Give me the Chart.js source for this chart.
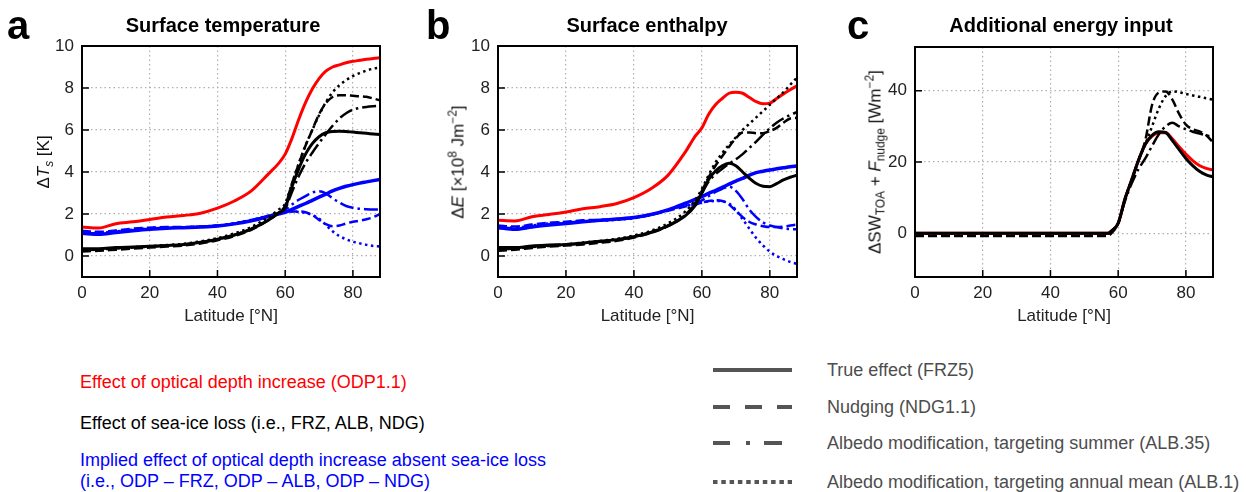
<!DOCTYPE html>
<html>
<head>
<meta charset="utf-8">
<script src="https://cdn.jsdelivr.net/npm/chart.js@4.4.1/dist/chart.umd.min.js"></script>
<style>
body { margin: 0; background: #fff; font-family: "Liberation Sans", Arial, sans-serif; }
#fig { position: relative; width: 1246px; height: 492px; overflow: hidden; }
canvas { position: absolute; }
.letter { position: absolute; font-weight: bold; font-size: 40px; line-height: 40px; }
.title { position: absolute; font-weight: bold; font-size: 20px; line-height: 20px; transform: translateX(-50%); white-space: nowrap; }
.ylab { position: absolute; font-size: 17px; line-height: 17px; white-space: nowrap; color: #111;
        transform: translate(-50%, -50%) rotate(-90deg); }
.ylab sub, .ylab sup { font-size: 70%; line-height: 0; }
.leg { position: absolute; font-size: 18px; line-height: 18px; white-space: nowrap; }
.key { position: absolute; left: 713px; width: 82px; height: 8px; }
</style>
</head>
<body>
<div id="fig">
  <canvas id="chartA" width="420" height="330" style="left:0px;top:0px"></canvas>
  <canvas id="chartB" width="420" height="330" style="left:420px;top:0px"></canvas>
  <canvas id="chartC" width="406" height="330" style="left:840px;top:0px"></canvas>

  <div class="letter" style="left:7px;top:5px">a</div>
  <div class="letter" style="left:426px;top:5px">b</div>
  <div class="letter" style="left:847px;top:5px">c</div>

  <div class="title" style="left:223px;top:15px">Surface temperature</div>
  <div class="title" style="left:647px;top:15px">Surface enthalpy</div>
  <div class="title" style="left:1061px;top:15px">Additional energy input</div>

  <div class="ylab" style="left:43px;top:162px">Δ<i>T</i><sub><i>s</i></sub> [K]</div>
  <div class="ylab" style="left:458px;top:162px">Δ<i>E</i> [×10<sup>8</sup> Jm<sup>−2</sup>]</div>
  <div class="ylab" style="left:875px;top:162px">ΔSW<sub>TOA</sub> + <i>F</i><sub>nudge</sub> [Wm<sup>−2</sup>]</div>

  <div class="leg" style="left:80px;top:373px;color:#ff0000">Effect of optical depth increase (ODP1.1)</div>
  <div class="leg" style="left:80px;top:414px;color:#000">Effect of sea-ice loss (i.e., FRZ, ALB, NDG)</div>
  <div class="leg" style="left:80px;top:451px;color:#0000ff">Implied effect of optical depth increase absent sea-ice loss</div>
  <div class="leg" style="left:80px;top:472px;color:#0000ff">(i.e., ODP – FRZ, ODP – ALB, ODP – NDG)</div>

  <svg class="key" style="top:366px"><line x1="0" y1="4" x2="79" y2="4" stroke="#555" stroke-width="4"/></svg>
  <svg class="key" style="top:403px"><line x1="0" y1="4" x2="79" y2="4" stroke="#555" stroke-width="4" stroke-dasharray="17 15"/></svg>
  <svg class="key" style="top:439px"><line x1="0" y1="4" x2="69" y2="4" stroke="#555" stroke-width="4" stroke-dasharray="17 16 4 14 18 100"/></svg>
  <svg class="key" style="top:478px"><line x1="0" y1="4" x2="79" y2="4" stroke="#555" stroke-width="4" stroke-dasharray="4.5 3.8"/></svg>

  <div class="leg" style="left:827px;top:361px;color:#4d4d4d">True effect (FRZ5)</div>
  <div class="leg" style="left:827px;top:398px;color:#4d4d4d">Nudging (NDG1.1)</div>
  <div class="leg" style="left:827px;top:434px;color:#4d4d4d">Albedo modification, targeting summer (ALB.35)</div>
  <div class="leg" style="left:827px;top:473px;color:#4d4d4d">Albedo modification, targeting annual mean (ALB.1)</div>
</div>

<script>
// latitudes (deg N) for panels a and b
const lat = [0, 5, 10, 15, 20, 25, 30, 35, 40, 45, 50, 55, 58, 60, 62, 64, 66, 68, 70, 72, 74, 76, 78, 80, 82, 84, 86, 88];
// latitudes for panel c
const latC = [0, 10, 20, 30, 40, 50, 57, 58, 60, 62, 64, 66, 68, 70, 72, 74, 76, 78, 80, 82, 84, 86, 88];

const xTicks = [0, 20, 40, 60, 80];
const yTicksAB = [0, 2, 4, 6, 8, 10];
const yTicksC = [0, 20, 40];

/////////////////////////////////////////////////////////////////
// a: surface temperature change [K]
const tsOdp      = [1.38, 1.33, 1.54, 1.63, 1.74, 1.86, 1.93, 2.04, 2.28, 2.62, 3.1, 3.9, 4.4, 4.85, 5.6, 6.5, 7.3, 7.95, 8.45, 8.8, 9.0, 9.1, 9.2, 9.27, 9.32, 9.37, 9.41, 9.44];
const tsFrz      = [0.35, 0.35, 0.4, 0.43, 0.46, 0.5, 0.55, 0.65, 0.8, 1.0, 1.28, 1.7, 2.05, 2.3, 3.3, 4.15, 4.85, 5.35, 5.68, 5.87, 5.93, 5.94, 5.93, 5.9, 5.87, 5.84, 5.81, 5.78];
const tsNdg      = [0.22, 0.25, 0.3, 0.35, 0.4, 0.45, 0.5, 0.6, 0.75, 0.95, 1.25, 1.7, 2.05, 2.4, 3.45, 4.38, 5.25, 6.0, 6.75, 7.28, 7.57, 7.65, 7.65, 7.63, 7.61, 7.58, 7.5, 7.42];
const tsAlb35    = [0.28, 0.3, 0.36, 0.4, 0.44, 0.49, 0.54, 0.64, 0.8, 1.0, 1.3, 1.72, 2.05, 2.25, 3.05, 3.8, 4.42, 4.92, 5.37, 5.8, 6.2, 6.55, 6.8, 6.97, 7.05, 7.1, 7.13, 7.15];
const tsAlb1     = [0.3, 0.32, 0.38, 0.42, 0.47, 0.52, 0.58, 0.7, 0.85, 1.08, 1.38, 1.85, 2.2, 2.5, 3.45, 4.4, 5.27, 6.0, 6.7, 7.32, 7.8, 8.13, 8.38, 8.57, 8.71, 8.83, 8.92, 8.98];
const tsOdpFrz   = [1.08, 1.03, 1.12, 1.2, 1.27, 1.32, 1.35, 1.38, 1.43, 1.53, 1.68, 1.88, 2.0, 2.08, 2.22, 2.36, 2.5, 2.65, 2.8, 2.95, 3.1, 3.22, 3.32, 3.4, 3.47, 3.53, 3.59, 3.65];
const tsOdpNdg   = [1.2, 1.15, 1.22, 1.3, 1.35, 1.38, 1.38, 1.4, 1.45, 1.55, 1.7, 1.9, 2.02, 2.1, 2.12, 2.12, 2.08, 1.95, 1.72, 1.52, 1.42, 1.45, 1.55, 1.63, 1.68, 1.75, 1.85, 2.0];
const tsOdpAlb35 = [1.12, 1.07, 1.15, 1.23, 1.3, 1.34, 1.36, 1.39, 1.44, 1.54, 1.7, 1.9, 2.03, 2.2, 2.45, 2.68, 2.85, 3.02, 3.08, 2.98, 2.75, 2.55, 2.38, 2.3, 2.25, 2.23, 2.22, 2.22];
const tsOdpAlb1  = [1.15, 1.1, 1.17, 1.25, 1.32, 1.35, 1.37, 1.4, 1.45, 1.56, 1.72, 1.92, 2.05, 2.1, 2.12, 2.1, 2.05, 1.95, 1.78, 1.48, 1.18, 0.95, 0.8, 0.68, 0.6, 0.53, 0.48, 0.45];

/////////////////////////////////////////////////////////////////
// b: surface enthalpy change [1e8 J m-2]
const eOdp      = [1.7, 1.67, 1.87, 1.98, 2.1, 2.25, 2.35, 2.5, 2.78, 3.2, 3.84, 4.92, 5.7, 6.1, 6.75, 7.2, 7.5, 7.75, 7.8, 7.75, 7.55, 7.35, 7.25, 7.28, 7.5, 7.72, 7.92, 8.1];
const eFrz      = [0.4, 0.4, 0.48, 0.52, 0.55, 0.62, 0.7, 0.78, 0.92, 1.12, 1.43, 1.9, 2.4, 3.0, 3.65, 4.05, 4.3, 4.42, 4.3, 4.0, 3.7, 3.45, 3.32, 3.3, 3.45, 3.62, 3.75, 3.85];
const eNdg      = [0.25, 0.3, 0.38, 0.45, 0.5, 0.55, 0.63, 0.72, 0.88, 1.1, 1.42, 1.95, 2.5, 3.1, 3.75, 4.3, 4.75, 5.2, 5.6, 5.88, 5.88, 5.85, 5.85, 5.95, 6.1, 6.35, 6.55, 6.58];
const eAlb35    = [0.32, 0.35, 0.43, 0.48, 0.53, 0.6, 0.68, 0.77, 0.92, 1.13, 1.45, 1.92, 2.42, 3.0, 3.55, 3.9, 4.15, 4.4, 4.6, 4.85, 5.15, 5.45, 5.78, 6.08, 6.35, 6.55, 6.72, 6.85];
const eAlb1     = [0.35, 0.38, 0.45, 0.5, 0.56, 0.64, 0.72, 0.82, 0.98, 1.2, 1.55, 2.1, 2.65, 3.2, 3.85, 4.45, 4.9, 5.3, 5.65, 6.0, 6.3, 6.6, 6.9, 7.2, 7.5, 7.8, 8.15, 8.5];
const eOdpFrz   = [1.35, 1.27, 1.38, 1.47, 1.55, 1.63, 1.7, 1.76, 1.83, 1.98, 2.2, 2.5, 2.7, 2.83, 2.98, 3.12, 3.27, 3.42, 3.57, 3.7, 3.85, 3.97, 4.04, 4.1, 4.15, 4.2, 4.25, 4.29];
const eOdpNdg   = [1.45, 1.4, 1.5, 1.58, 1.63, 1.7, 1.72, 1.76, 1.82, 1.96, 2.15, 2.35, 2.45, 2.55, 2.62, 2.65, 2.62, 2.45, 2.15, 1.85, 1.62, 1.5, 1.42, 1.38, 1.38, 1.4, 1.45, 1.5];
const eOdpAlb35 = [1.38, 1.32, 1.42, 1.5, 1.58, 1.65, 1.7, 1.74, 1.82, 1.97, 2.18, 2.42, 2.5, 2.65, 2.85, 3.05, 3.2, 3.3, 3.1, 2.7, 2.2, 1.85, 1.6, 1.45, 1.38, 1.32, 1.28, 1.27];
const eOdpAlb1  = [1.4, 1.35, 1.45, 1.55, 1.6, 1.65, 1.68, 1.72, 1.8, 1.97, 2.2, 2.4, 2.45, 2.55, 2.6, 2.62, 2.6, 2.5, 2.2, 1.75, 1.3, 0.85, 0.5, 0.2, 0.0, -0.15, -0.28, -0.38];

/////////////////////////////////////////////////////////////////
// c: additional energy input dSW_TOA + F_nudge [W m-2]
const swOdp   = [0, 0, 0, 0, 0, 0, 0, 0.6, 2.8, 9.6, 15, 20.5, 25, 27.3, 28.2, 28.2, 26.5, 24.3, 22.2, 20.4, 19, 18.2, 17.8];
const swFrz   = [0, 0, 0, 0, 0, 0, 0, 0.6, 2.8, 9.6, 15, 20.5, 25, 27.5, 28.5, 28.3, 26, 23.5, 21, 19, 17.4, 16.4, 15.8];
const swNdg   = [-0.8, -0.8, -0.8, -0.8, -0.8, -0.8, -0.8, 0, 2.8, 9.6, 15, 20.5, 26, 36, 39.5, 39.8, 37.5, 33.5, 30.5, 29.2, 28.6, 27.5, 25.5];
const swAlb35 = [0, 0, 0, 0, 0, 0, 0, 0.6, 2.8, 9, 14, 18, 21, 24.5, 27.8, 30, 31, 30, 29.2, 28.5, 28, 27.5, 27];
const swAlb1  = [0, 0, 0, 0, 0, 0, 0, 0.6, 2.8, 9.6, 15, 20.5, 25, 30, 35, 38.5, 39.8, 39.6, 39.1, 38.7, 38.3, 37.9, 37.5];

const RED = '#ff0000', BLUE = '#0000ff', BLACK = '#000000';
const SOLID = [], DASHED = [9, 4], DASHDOT = [14, 4, 2.5, 4], DOTTED = [2.5, 3.5];

function line(lats, vals, color, dash, width) {
    return {
        data: lats.map(function (x, i) { return { x: x, y: vals[i] }; }),
        borderColor: color,
        borderDash: dash,
        borderWidth: width,
        pointRadius: 0,
        fill: false,
        cubicInterpolationMode: 'monotone'
    };
}

// box round the plot plus inward tick marks on the left and bottom
const framePlugin = {
    id: 'frame',
    afterDraw: function (chart) {
        const ctx = chart.ctx, a = chart.chartArea, xs = chart.scales.x, ys = chart.scales.y;
        ctx.save();
        ctx.lineWidth = 1.5;
        ctx.strokeStyle = '#000';
        ctx.beginPath();
        xs.ticks.forEach(function (t) {
            const px = xs.getPixelForValue(t.value);
            ctx.moveTo(px, a.bottom); ctx.lineTo(px, a.bottom - 7);
        });
        ys.ticks.forEach(function (t) {
            const py = ys.getPixelForValue(t.value);
            ctx.moveTo(a.left, py); ctx.lineTo(a.left + 7, py);
        });
        ctx.stroke();
        ctx.lineWidth = 2;
        ctx.strokeRect(a.left, a.top, a.right - a.left, a.bottom - a.top);
        ctx.restore();
    }
};

function panel(id, datasets, yMin, yMax, yTicks, yWidth, pad) {
    const font = { family: '"Liberation Sans", Arial, sans-serif', size: 17 };
    return new Chart(document.getElementById(id), {
        type: 'line',
        data: { datasets: datasets },
        options: {
            responsive: false,
            animation: false,
            devicePixelRatio: 1,
            layout: { padding: pad },
            plugins: { legend: { display: false }, tooltip: { enabled: false } },
            scales: {
                x: {
                    type: 'linear', min: 0, max: 88,
                    afterBuildTicks: function (s) { s.ticks = xTicks.map(function (v) { return { value: v }; }); },
                    afterFit: function (s) { s.height = 53; },
                    grid: { color: '#b0b0b0', lineWidth: 1.2, drawTicks: false },
                    border: { display: false, dash: [1.5, 3] },
                    ticks: { color: '#222', font: font, padding: 6, maxRotation: 0 },
                    title: { display: true, text: 'Latitude [°N]', color: '#222', font: font, padding: 3 }
                },
                y: {
                    type: 'linear', min: yMin, max: yMax,
                    afterBuildTicks: function (s) { s.ticks = yTicks.map(function (v) { return { value: v }; }); },
                    afterFit: function (s) { s.width = yWidth; },
                    grid: { color: '#b0b0b0', lineWidth: 1.2, drawTicks: false },
                    border: { display: false, dash: [1.5, 3] },
                    ticks: { color: '#222', font: font, padding: 8 }
                }
            }
        },
        plugins: [framePlugin]
    });
}

panel('chartA', [
    line(lat, tsFrz, BLACK, SOLID, 3),
    line(lat, tsNdg, BLACK, DASHED, 2.5),
    line(lat, tsAlb35, BLACK, DASHDOT, 2.5),
    line(lat, tsAlb1, BLACK, DOTTED, 2.5),
    line(lat, tsOdpFrz, BLUE, SOLID, 3.5),
    line(lat, tsOdpNdg, BLUE, DASHED, 2.5),
    line(lat, tsOdpAlb35, BLUE, DASHDOT, 2.5),
    line(lat, tsOdpAlb1, BLUE, DOTTED, 2.5),
    line(lat, tsOdp, RED, SOLID, 3)
], -1, 10, yTicksAB, 82, { left: 0, right: 40, top: 46, bottom: 0 });

panel('chartB', [
    line(lat, eFrz, BLACK, SOLID, 3),
    line(lat, eNdg, BLACK, DASHED, 2.5),
    line(lat, eAlb35, BLACK, DASHDOT, 2.5),
    line(lat, eAlb1, BLACK, DOTTED, 2.5),
    line(lat, eOdpFrz, BLUE, SOLID, 3.5),
    line(lat, eOdpNdg, BLUE, DASHED, 2.5),
    line(lat, eOdpAlb35, BLUE, DASHDOT, 2.5),
    line(lat, eOdpAlb1, BLUE, DOTTED, 2.5),
    line(lat, eOdp, RED, SOLID, 3)
], -1, 10, yTicksAB, 78, { left: 0, right: 43, top: 46, bottom: 0 });

panel('chartC', [
    line(latC, swFrz, BLACK, SOLID, 3),
    line(latC, swNdg, BLACK, DASHED, 2.5),
    line(latC, swAlb35, BLACK, DASHDOT, 2.5),
    line(latC, swAlb1, BLACK, DOTTED, 2.5),
    line(latC, swOdp, RED, SOLID, 3)
], -12.3, 52.3, yTicksC, 75, { left: 0, right: 33, top: 47, bottom: 0 });
</script>
</body>
</html>
